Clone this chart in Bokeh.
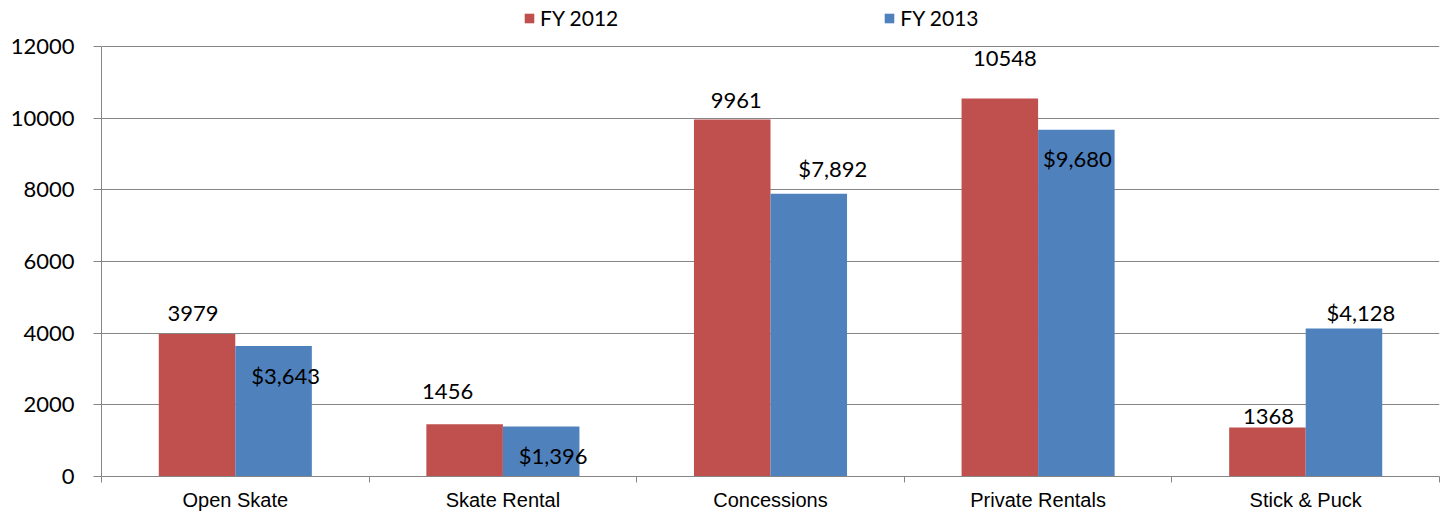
from bokeh.plotting import figure
from bokeh.models import ColumnDataSource, FixedTicker, Range1d, Legend, LegendItem
from bokeh.core.properties import value
from bokeh.embed import file_html
from bokeh.resources import INLINE

categories = ["Open Skate", "Skate Rental", "Concessions", "Private Rentals", "Stick & Puck"]
fy2012 = [3979, 1456, 9961, 10548, 1368]
fy2013 = [3643, 1396, 7892, 9680, 4128]
y_ticks = [0, 2000, 4000, 6000, 8000, 10000, 12000]

# label nudges in screen px (dx to the right, dy upward from the bar top)
lab12_dx = [-4, -17, 4, 5, 1]
lab12_dy = [20, 33, 19, 40, 11]
lab13_dx = [12, 12, 24, 1, 17]
lab13_dy = [-30, -29, 25, -29, 16]

RED = "#C0504D"
BLUE = "#4F81BD"
GRID = "#868686"
BAR_W = 0.286
FONT = "Lato"
Y_MAX = 12000
# frame spans the full height above the x axis (476 px) while 12000 sits at 430 px,
# leaving room in the frame for the legend
Y_TOP = Y_MAX * 476 / 430

n = len(categories)
centers = [i + 0.5 for i in range(n)]
x12 = [c - BAR_W / 2 for c in centers]
x13 = [c + BAR_W / 2 for c in centers]

src12 = ColumnDataSource(dict(x=x12, top=fy2012, text=[str(v) for v in fy2012],
                              dx=lab12_dx, dy=[-d for d in lab12_dy]))
src13 = ColumnDataSource(dict(x=x13, top=fy2013, text=["${:,}".format(v) for v in fy2013],
                              dx=lab13_dx, dy=[-d for d in lab13_dy]))

p = figure(width=1446, height=514, x_range=Range1d(0, n), y_range=Range1d(0, Y_TOP),
           output_backend="svg", toolbar_location=None,
           min_border_left=101, min_border_right=7, min_border_top=0, min_border_bottom=38)
p.outline_line_color = None
p.background_fill_color = "white"

r12 = p.vbar(x="x", top="top", bottom=0, width=BAR_W, source=src12, fill_color=RED, line_color=None)
r13 = p.vbar(x="x", top="top", bottom=0, width=BAR_W, source=src13, fill_color=BLUE, line_color=None)

for src in (src12, src13):
    p.text(x="x", y="top", text="text", x_offset="dx", y_offset="dy", source=src,
           text_align="center", text_baseline="middle", text_font=value(FONT),
           text_font_size="22px", text_color="black")

# grid
p.xgrid.visible = False
p.ygrid.ticker = FixedTicker(ticks=y_ticks)
p.ygrid.grid_line_color = GRID
p.ygrid.grid_line_width = 1

# y axis
ya = p.yaxis[0]
ya.ticker = FixedTicker(ticks=y_ticks)
ya.bounds = (0, Y_MAX)
ya.axis_line_color = GRID
ya.major_tick_line_color = GRID
ya.major_tick_out = 8
ya.major_tick_in = 0
ya.minor_tick_line_color = None
ya.major_label_text_font = FONT
ya.major_label_text_font_size = "22px"
ya.major_label_text_color = "black"
ya.major_label_standoff = 19

# x axis: labels at centres, ticks at boundaries
xa = p.xaxis[0]
xa.ticker = FixedTicker(ticks=centers, minor_ticks=list(range(n + 1)))
xa.major_label_overrides = {c: lab for c, lab in zip(centers, categories)}
xa.axis_line_color = GRID
xa.major_tick_line_color = None
xa.major_tick_out = 0
xa.major_tick_in = 0
xa.minor_tick_line_color = GRID
xa.minor_tick_out = 6
xa.minor_tick_in = 0
xa.major_label_text_font = "Liberation Sans"
xa.major_label_text_font_size = "20px"
xa.major_label_text_color = "black"
xa.major_label_standoff = 6

legend = Legend(items=[LegendItem(label="FY 2012", renderers=[r12]),
                       LegendItem(label="FY 2013", renderers=[r13])],
                orientation="horizontal", location=(422, 446),
                glyph_width=12, glyph_height=12, label_standoff=5, spacing=265,
                padding=0, margin=0, border_line_color=None, background_fill_alpha=0,
                label_text_font=FONT, label_text_font_size="21px", label_text_color="black")
p.add_layout(legend, "center")

open("out.html", "w").write(file_html(p, INLINE))
